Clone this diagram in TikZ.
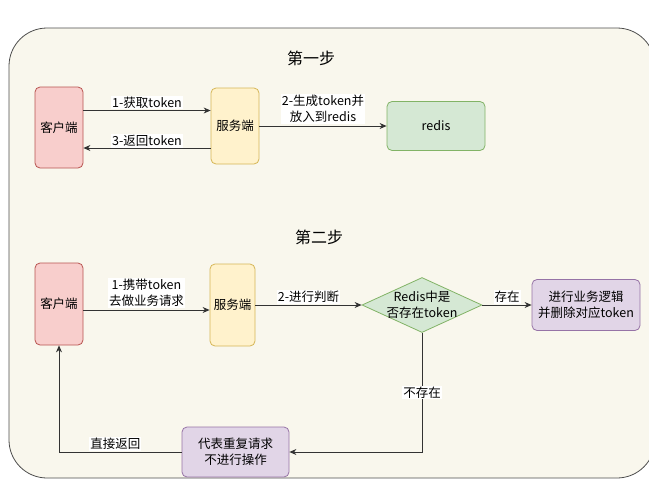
\documentclass[tikz,border=0pt]{standalone}
\usepackage{fontspec}
\setmainfont{Noto Sans CJK SC}
\usetikzlibrary{shapes.geometric,arrows.meta}
\definecolor{bgfill}{HTML}{F9F7ED}
\definecolor{bgline}{HTML}{4D4D4D}
\definecolor{pinkf}{HTML}{F8CECC}\definecolor{pinkd}{HTML}{B85450}
\definecolor{yelf}{HTML}{FFF2CC}\definecolor{yeld}{HTML}{D6B656}
\definecolor{grnf}{HTML}{D5E8D4}\definecolor{grnd}{HTML}{82B366}
\definecolor{purf}{HTML}{E1D5E7}\definecolor{purd}{HTML}{9673A6}
\definecolor{linec}{HTML}{333333}
\begin{document}
\begin{tikzpicture}[x=1pt,y=-1pt,
  font=\fontsize{12.5}{16}\selectfont,
  box/.style={rounded corners=5pt, line width=0.8pt, inner sep=0pt, align=center},
  pinkbox/.style={box, fill=pinkf, draw=pinkd},
  yelbox/.style={box, fill=yelf, draw=yeld},
  grnbox/.style={box, fill=grnf, draw=grnd},
  purbox/.style={box, fill=purf, draw=purd},
  arr/.style={draw=linec, line width=0.8pt, -{Stealth[length=7pt,width=6pt]}},
  lbl/.style={fill=white, inner sep=1pt, align=center},
  ttl/.style={font=\fontsize{16}{18}\selectfont}]
\useasboundingbox (0,0) rectangle (649,480);
\draw[fill=bgfill, draw=bgline, line width=0.8pt, rounded corners=38pt] (9,28) rectangle (655,478);

% step 1
\node[ttl] (t1) at (311,58) {第一步};
\node[pinkbox, minimum width=48pt, minimum height=81pt] (c1) at (59,127.5) {客户端};
\node[yelbox, minimum width=48pt, minimum height=76pt] (s1) at (235,126) {服务端};
\node[grnbox, minimum width=98pt, minimum height=49pt] (r1) at (436,126) {redis};
\draw[arr] ([yshift=17pt]c1.east) -- ([yshift=17pt]c1.east -| s1.west)
  node[lbl, midway, above=1pt] {1-获取token};
\draw[arr] ([yshift=-22pt]s1.west) -- ([yshift=-22pt]s1.west -| c1.east)
  node[lbl, midway, yshift=7pt] {3-返回token};
\draw[arr] (s1.east) -- (r1.west)
  node[lbl, midway, above=2pt] {2-生成token并\\放入到redis};

% step 2
\node[ttl] (t2) at (319,237) {第二步};
\node[pinkbox, minimum width=48pt, minimum height=82pt] (c2) at (59,304) {客户端};
\node[yelbox, minimum width=45pt, minimum height=82pt] (s2) at (232.5,305) {服务端};
\node[diamond, fill=grnf, draw=grnd, line width=0.8pt, minimum width=120pt, minimum height=55pt, inner sep=0pt] (d) at (422,305) {};
\node[align=center] (dt) at (d.center) {Redis中是\\否存在token};
\node[purbox, minimum width=108pt, minimum height=51pt] (p1) at (586,305) {进行业务逻辑\\并删除对应token};
\node[purbox, minimum width=107pt, minimum height=50pt] (p2) at (235.5,452) {代表重复请求\\不进行操作};

\draw[arr] ([yshift=-6pt]c2.east) -- ([yshift=-6pt]c2.east -| s2.west)
  node[lbl, midway, above=2pt] {1-携带token\\去做业务请求};
\draw[arr] (s2.east) -- (d.west)
  node[lbl, midway, above=1pt] {2-进行判断};
\draw[arr] (d.east) -- (p1.west)
  node[lbl, midway, above=1pt] {存在};
\draw[arr] (d.south) |- (p2.east)
  node[lbl, pos=0.25] {不存在};
\draw[arr] (p2.west) -| (c2.south)
  node[lbl, pos=0.27, above=1pt] {直接返回};
\end{tikzpicture}
\end{document}
